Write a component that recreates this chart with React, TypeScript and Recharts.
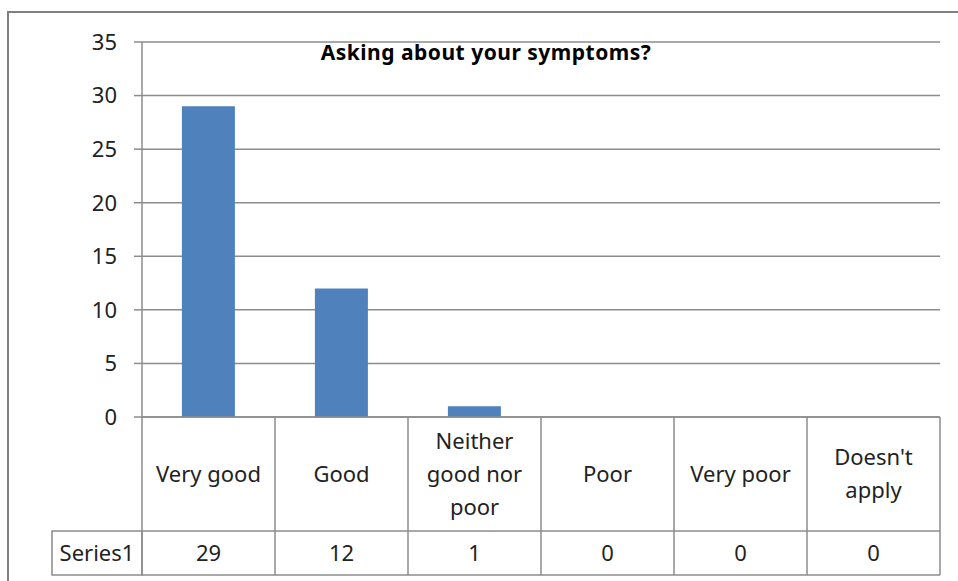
import { Bar, BarChart, CartesianGrid, XAxis, YAxis } from "recharts";

const categories = ["Very good", "Good", "Neither good nor poor", "Poor", "Very poor", "Doesn't apply"];
const series1 = [29, 12, 1, 0, 0, 0];
const yTicks = [0, 5, 10, 15, 20, 25, 30, 35];
const seriesName = "Series1";
const title = "Asking about your symptoms?";

const W = 958;
const H = 581;
const MARGIN = { top: 42, right: 18, left: 82, bottom: 0 };
const Y_AXIS_W = 60;
const X_AXIS_H = 164;
const PLOT_W = W - MARGIN.left - Y_AXIS_W - MARGIN.right;
const COL_W = PLOT_W / categories.length;
const CAT_ROW_H = 114;
const VAL_ROW_H = 44;
const HEADER_W = 90;

const FONT = "'Noto Sans', 'DejaVu Sans', sans-serif";
const LINE = "#8c8c8c";
const TEXT = "#222";

const data = categories.map((c, i) => ({ name: c, value: series1[i] }));

// greedy word wrap, like the table cells in the original
function wrap(label: string, max = 9) {
  const lines: string[] = [];
  let cur = "";
  for (const w of label.split(" ")) {
    if (cur && (cur + " " + w).length > max) {
      lines.push(cur);
      cur = w;
    } else {
      cur = cur ? cur + " " + w : w;
    }
  }
  if (cur) lines.push(cur);
  return lines;
}

function TableTick(props: any) {
  const { x, y, payload, index } = props;
  const left = x - COL_W / 2;
  const right = x + COL_W / 2;
  const lines = wrap(String(payload.value));
  const lh = 33;
  const catMid = y + CAT_ROW_H / 2;
  const valMid = y + CAT_ROW_H + VAL_ROW_H / 2;
  const bottom = y + CAT_ROW_H + VAL_ROW_H;
  return (
    <g>
      <line x1={right} y1={y} x2={right} y2={bottom} stroke={LINE} strokeWidth={1.5} />
      <line x1={left} y1={y + CAT_ROW_H} x2={right} y2={y + CAT_ROW_H} stroke={LINE} strokeWidth={1.5} />
      <line x1={left} y1={bottom} x2={right} y2={bottom} stroke={LINE} strokeWidth={1.5} />
      {index === 0 && (
        <g>
          <line x1={left} y1={y} x2={left} y2={bottom} stroke={LINE} strokeWidth={1.5} />
          <rect x={left - HEADER_W} y={y + CAT_ROW_H} width={HEADER_W} height={VAL_ROW_H} fill="none" stroke={LINE} strokeWidth={1.5} />
          <text x={left - HEADER_W / 2} y={valMid} dy="0.35em" textAnchor="middle" fontSize={22} fill={TEXT} fontFamily={FONT}>
            {seriesName}
          </text>
        </g>
      )}
      {lines.map((l, i) => (
        <text
          key={i}
          x={x}
          y={catMid + (i - (lines.length - 1) / 2) * lh}
          dy="0.35em"
          textAnchor="middle"
          fontSize={22}
          fill={TEXT}
          fontFamily={FONT}
        >
          {l}
        </text>
      ))}
      <text x={x} y={valMid} dy="0.35em" textAnchor="middle" fontSize={22} fill={TEXT} fontFamily={FONT}>
        {series1[index]}
      </text>
    </g>
  );
}

export default function App() {
  return (
    <div style={{ position: "absolute", left: 0, top: 0, width: W, height: H, background: "#fff", overflow: "hidden" }}>
      <div
        style={{
          position: "absolute",
          left: 7,
          top: 11,
          width: W + 20,
          height: H + 20,
          border: "2px solid #808080",
          boxSizing: "border-box",
        }}
      />
      <BarChart width={W} height={H} data={data} margin={MARGIN} barCategoryGap="30%" style={{ position: "absolute", left: 0, top: 0 }}>
        <CartesianGrid vertical={false} stroke={LINE} strokeWidth={1.5} />
        <YAxis
          width={Y_AXIS_W}
          domain={[0, 35]}
          ticks={yTicks}
          interval={0}
          tickSize={8}
          tickMargin={17}
          stroke={LINE}
          strokeWidth={1.5}
          tick={{ fill: TEXT, fontSize: 22, fontFamily: FONT }}
        />
        <XAxis
          dataKey="name"
          height={X_AXIS_H}
          interval={0}
          tickSize={0}
          tickMargin={0}
          tickLine={false}
          stroke={LINE}
          strokeWidth={1.5}
          tick={<TableTick />}
        />
        <Bar dataKey="value" fill="#4f81bd" isAnimationActive={false} />
      </BarChart>
      <div
        style={{
          position: "absolute",
          left: 486,
          top: 52,
          transform: "translate(-50%, -50%)",
          fontFamily: FONT,
          fontWeight: 700,
          fontSize: 21,
          letterSpacing: 0.5,
          color: "#000",
          whiteSpace: "nowrap",
        }}
      >
        {title}
      </div>
    </div>
  );
}
